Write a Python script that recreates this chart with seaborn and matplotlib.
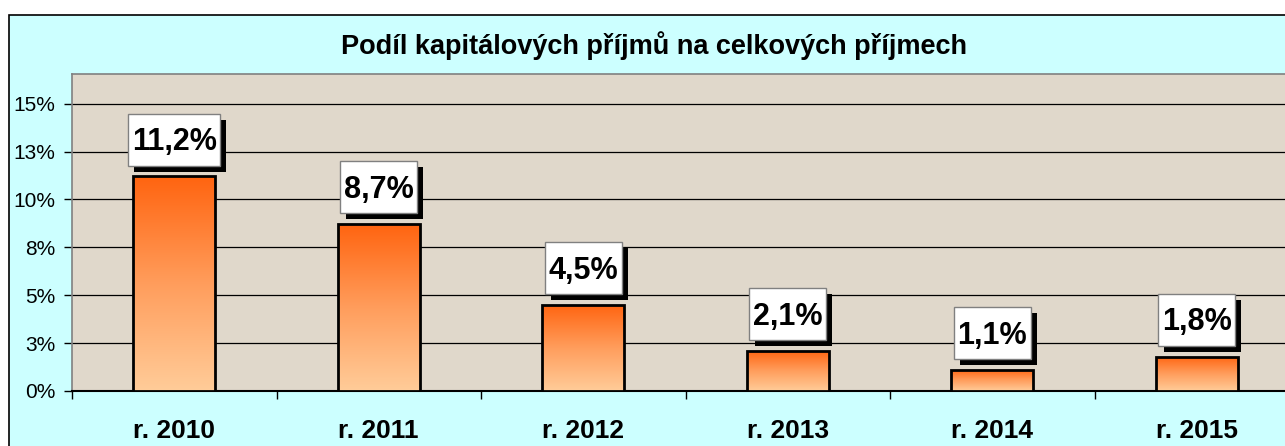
import numpy as np
import pandas as pd
import matplotlib
matplotlib.use('Agg')
import matplotlib.pyplot as plt
import matplotlib.patheffects as pe
import seaborn as sns
from matplotlib.colors import LinearSegmentedColormap
from matplotlib.patches import Rectangle
from matplotlib.path import Path
from matplotlib.ticker import FixedLocator

# Data
years = ['r. 2010', 'r. 2011', 'r. 2012', 'r. 2013', 'r. 2014', 'r. 2015']
shares = [11.2, 8.7, 4.5, 2.1, 1.1, 1.8]
ytick_vals = [0, 2.5, 5, 7.5, 10, 12.5, 15]
ytick_labels = ['0%', '3%', '5%', '8%', '10%', '13%', '15%']
title = 'Podíl kapitálových příjmů na celkových příjmech'

df = pd.DataFrame({'year': years, 'share': shares})

sns.set_style('white')
plt.rcParams['font.family'] = ['Liberation Sans', 'DejaVu Sans']
plt.rcParams['text.color'] = 'black'
plt.rcParams['xtick.color'] = 'black'
plt.rcParams['ytick.color'] = 'black'


# label box: little side padding, more padding above than below
def label_box(x0, y0, width, height, mutation_size):
    px = 0.12 * mutation_size
    xa, xb = x0 - px, x0 + width + px
    ya, yb = y0 - 0.27 * mutation_size, y0 + height + 0.45 * mutation_size
    return Path([(xa, ya), (xb, ya), (xb, yb), (xa, yb), (xa, ya)],
                [Path.MOVETO, Path.LINETO, Path.LINETO, Path.LINETO, Path.CLOSEPOLY])


fig = plt.figure(figsize=(12.85, 4.46), dpi=100, facecolor='white')

# chart area (cyan with black border, cut at the right/bottom)
fig.patches.append(Rectangle((9 / 1285, -0.1), 1.2, 1 - 15 / 446 + 0.1,
                             transform=fig.transFigure, facecolor='#CCFFFF',
                             edgecolor='black', linewidth=1.2, zorder=-5))

ax = fig.add_axes([72 / 1285, 1 - 391 / 446, (1299 - 72) / 1285, (391 - 74) / 446])
ax.set_facecolor('#E0D8CB')

sns.barplot(data=df, x='year', y='share', ax=ax, width=0.4,
            color='#FF8040', edgecolor='black', linewidth=2, zorder=3)

ax.set_xlim(-0.5, 5.5)
ax.set_ylim(0, 16.55)

# gradient fill for every bar
cmap = LinearSegmentedColormap.from_list('barfill', ['#FFCC99', '#FF9D5C', '#FF6410'])
grad = np.linspace(0, 1, 256).reshape(-1, 1)
for patch in ax.patches:
    x0, y0 = patch.get_x(), patch.get_y()
    w, h = patch.get_width(), patch.get_height()
    im = ax.imshow(grad, extent=[x0, x0 + w, y0, y0 + h], origin='lower',
                   cmap=cmap, aspect='auto', zorder=3.5)
    im.set_clip_path(patch)
    patch.set_facecolor('none')
    patch.set_zorder(4)

# value labels in white boxes with a black drop shadow
for i, v in enumerate(shares):
    txt = f'{v:.1f}%'.replace('.', ',')
    ann = ax.annotate(txt, xy=(i, v), xytext=(0, 13.8), textcoords='offset points',
                      ha='center', va='bottom', fontsize=22, fontweight='bold', color='black',
                      bbox=dict(boxstyle=label_box, facecolor='white', edgecolor='#808080',
                                linewidth=1),
                      zorder=6, annotation_clip=False)
    ann.get_bbox_patch().set_path_effects([
        pe.SimplePatchShadow(offset=(4.3, -4.3), shadow_rgbFace='black', alpha=1),
        pe.Normal()])

# axes styling
ax.yaxis.set_major_locator(FixedLocator(ytick_vals))
ax.set_yticklabels(ytick_labels, fontsize=15)
ax.grid(axis='y', color='black', linewidth=0.9, zorder=1)
ax.set_axisbelow(True)
ax.tick_params(axis='y', length=6, width=1, color='black', pad=6, left=True)
ax.set_xticks(range(len(years)))
ax.set_xticklabels(years, fontsize=19, fontweight='bold')
ax.tick_params(axis='x', which='major', length=0, pad=20)
ax.set_xticks(np.arange(-0.5, len(years), 1.0), minor=True)
ax.tick_params(axis='x', which='minor', length=6, width=1, color='black', bottom=True)
ax.set_xlabel('')
ax.set_ylabel('')
for side in ['top', 'left', 'right']:
    ax.spines[side].set_color('#808080')
    ax.spines[side].set_linewidth(1.2)
ax.spines['bottom'].set_color('black')
ax.spines['bottom'].set_linewidth(1.5)

fig.text(654 / 1285, 1 - 46 / 446, title, ha='center', va='center',
         fontsize=19.5, fontweight='bold', color='black')

fig.savefig('out.png', dpi=100, facecolor='white')
